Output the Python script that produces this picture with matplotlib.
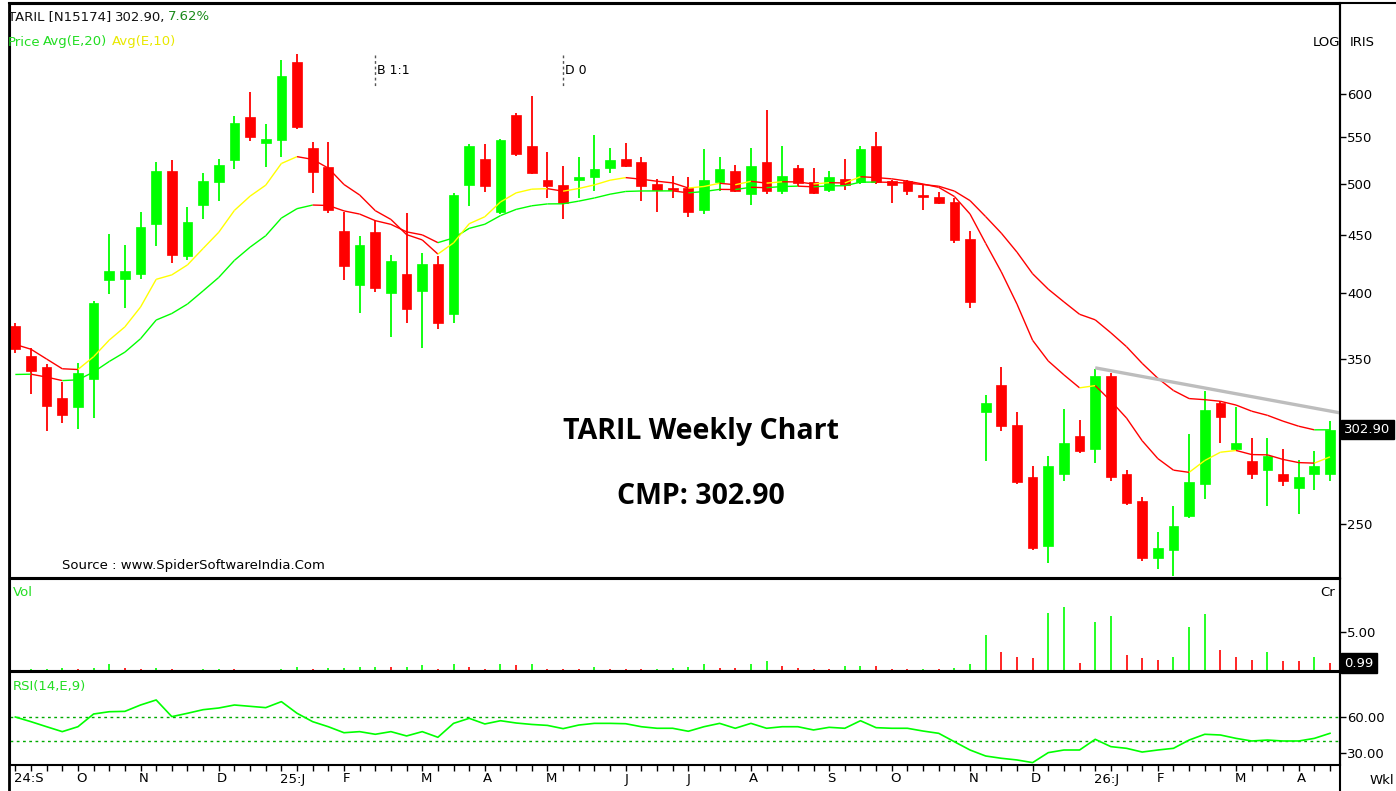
import numpy as np
import matplotlib
matplotlib.use('Agg')
import matplotlib.pyplot as plt
from matplotlib.collections import LineCollection
from matplotlib.transforms import blended_transform_factory as btf

# ---------------- data (weekly OHLC) ----------------
opens = [374, 352, 344, 323, 317, 336, 411, 412, 416, 460, 513, 431, 479, 502, 525,
         573, 543, 546, 640, 538, 517, 454, 407, 453, 400, 416, 402, 424, 383, 499,
         526, 472, 575, 540, 504, 499, 504, 507, 516, 526, 522, 500, 495, 495, 474,
         502, 513, 489, 522, 492, 516, 502, 493, 505, 502, 540, 503, 503, 488, 486,
         482, 447, 314, 332, 306, 275, 239, 277, 299, 291, 338, 277, 262, 233, 237,
         254, 271, 320, 291, 284, 279, 277, 269, 277, 277]
highs = [376, 358, 346, 334, 347, 394, 451, 441, 472, 522, 525, 477, 511, 526, 574,
         602, 564, 643, 651, 544, 544, 472, 449, 464, 432, 471, 434, 431, 490, 542,
         542, 548, 577, 598, 533, 518, 528, 552, 538, 543, 528, 505, 508, 507, 536,
         528, 519, 538, 581, 540, 519, 516, 513, 526, 540, 555, 504, 504, 498, 491,
         485, 454, 325, 344, 314, 281, 287, 316, 309, 343, 340, 279, 264, 246, 259,
         300, 328, 321, 317, 298, 298, 291, 285, 290, 308]
lows = [354, 326, 302, 307, 303, 310, 399, 388, 412, 440, 425, 428, 465, 483, 515,
        545, 517, 528, 559, 490, 471, 411, 384, 401, 366, 376, 358, 372, 376, 478,
        491, 470, 529, 510, 485, 465, 485, 492, 511, 517, 483, 472, 485, 467, 470,
        492, 491, 479, 489, 489, 497, 489, 491, 493, 500, 500, 481, 488, 474, 480,
        443, 388, 284, 302, 271, 237, 231, 273, 289, 283, 273, 260, 232, 228, 225,
        253, 263, 295, 290, 274, 259, 270, 255, 268, 273]
closes = [357, 341, 318, 312, 340, 392, 418, 418, 458, 513, 432, 462, 503, 519, 566,
          550, 548, 622, 561, 512, 474, 423, 441, 404, 427, 387, 424, 376, 488, 540,
          497, 546, 531, 511, 497, 481, 507, 515, 525, 518, 497, 493, 493, 472, 504,
          515, 492, 518, 492, 508, 501, 490, 507, 499, 536, 502, 499, 492, 486, 481,
          446, 393, 320, 305, 272, 238, 281, 295, 290, 338, 275, 261, 233, 238, 249,
          272, 315, 311, 295, 277, 287, 273, 275, 281.5, 302.9]
volume = [0.15, 0.2, 0.3, 0.4, 0.3, 0.35, 0.95, 0.35, 0.2, 0.35, 0.2, 0.15, 0.2, 0.22, 0.2,
          0.15, 0.12, 0.3, 0.5, 0.3, 0.32, 0.35, 0.5, 0.55, 0.5, 0.55, 0.75, 0.25, 0.9, 0.5,
          0.3, 0.9, 0.75, 0.95, 0.25, 0.22, 0.2, 0.5, 0.3, 0.28, 0.25, 0.3, 0.32, 0.5, 0.85,
          0.42, 0.40, 0.85, 1.23, 0.64, 0.42, 0.21, 0.2, 0.64, 0.66, 0.62, 0.21, 0.2, 0.22, 0.2,
          0.42, 0.85, 4.58, 2.42, 1.82, 1.61, 7.42, 8.18, 1.02, 6.23, 6.99, 1.99, 1.61, 1.44, 1.82,
          5.59, 7.20, 2.63, 1.82, 1.44, 2.42, 1.23, 1.23, 1.82, 0.99]
rsi = [60.0, 56.1, 51.9, 47.8, 51.9, 62.5, 64.4, 64.7, 70.0, 74.2,
       60.3, 63.1, 66.1, 67.5, 70.0, 68.9, 67.8, 72.8, 63.1, 56.1,
       51.9, 46.9, 47.8, 45.6, 47.8, 44.2, 47.8, 43.1, 54.7, 58.9,
       54.2, 56.9, 55.0, 53.8, 53.0, 50.3, 53.3, 54.7, 54.7, 54.4,
       51.9, 50.6, 50.6, 48.1, 51.9, 54.7, 50.6, 54.7, 50.6, 51.9,
       51.9, 49.2, 51.4, 50.6, 56.9, 51.1, 50.6, 50.6, 48.3, 46.4,
       39.4, 32.5, 27.5, 25.6, 24.2, 22.0, 30.3, 32.5, 32.5, 41.4,
       35.3, 33.9, 30.8, 32.5, 33.9, 40.8, 45.6, 45.0, 42.2, 40.0,
       40.8, 40.0, 40.0, 42.2, 46.4]
ema10_seed = 361.0   # EMA(10) value just before first bar
ema20_seed = 337.0   # EMA(20) value just before first bar
month_idx = [0, 4, 8, 13, 17, 21, 26, 30, 34, 39, 43, 47, 52, 56, 61, 65, 69, 73, 78, 82]
month_lbl = ['24:S', 'O', 'N', 'D', '25:J', 'F', 'M', 'A', 'M', 'J', 'J', 'A', 'S', 'O',
             'N', 'D', '26:J', 'F', 'M', 'A']
price_ticks = [250, 350, 400, 450, 500, 550, 600]
trend_x = [69, 84.65]
trend_y = [343.5, 313.4]
last_price = 302.90
pct_change = 7.62

# ---------------- derived ----------------
n = len(closes)
x = np.arange(n)
o = np.array(opens, float); h = np.array(highs, float)
l = np.array(lows, float); c = np.array(closes, float)
v = np.array(volume, float)

def ema(vals, period, seed):
    a = 2.0 / (period + 1)
    out = []
    prev = seed
    for val in vals:
        prev = prev + a * (val - prev)
        out.append(prev)
    return np.array(out)

e10 = ema(c, 10, ema10_seed)
e20 = ema(c, 20, ema20_seed)

RED = '#ff0000'
GRN = '#00ff00'
YEL = '#ffff00'

W, H = 1396, 791
fig = plt.figure(figsize=(W / 100, H / 100), dpi=100)
fig.patch.set_facecolor('white')

def fx(px):
    return px / W

def fy(py):
    return 1 - py / H

LPX, RPX = 10, 1340
ax_p = fig.add_axes([fx(LPX), fy(578), fx(RPX - LPX), (578 - 4) / H])
ax_v = fig.add_axes([fx(LPX), fy(671), fx(RPX - LPX), (671 - 579) / H])
ax_r = fig.add_axes([fx(LPX), fy(765), fx(RPX - LPX), (765 - 672) / H])

XMIN, XMAX = -0.34, 84.64
for ax in (ax_p, ax_v, ax_r):
    ax.set_xlim(XMIN, XMAX)
    ax.set_facecolor('white')
    for s in ax.spines.values():
        s.set_color('black')
        s.set_linewidth(1.5)
    ax.yaxis.tick_right()
    ax.tick_params(axis='y', which='both', direction='out', length=4, width=1,
                   labelsize=9.5, pad=1, colors='black')
    ax.tick_params(axis='x', which='both', bottom=False, labelbottom=False)

FONT = ['DejaVu Sans']

# ---------------- price panel ----------------
ax_p.set_yscale('log')
ax_p.set_ylim(223.9, 720.7)
ax_p.yaxis.set_major_locator(matplotlib.ticker.FixedLocator(price_ticks))
ax_p.yaxis.set_minor_locator(matplotlib.ticker.NullLocator())
ax_p.yaxis.set_major_formatter(matplotlib.ticker.FixedFormatter([str(t) for t in price_ticks]))
ax_p.yaxis.set_minor_formatter(matplotlib.ticker.NullFormatter())

cols = np.where(c >= o, GRN, RED)
ax_p.vlines(x, l, h, colors=cols, linewidth=1.3, zorder=3)
bottoms = np.minimum(o, c)
heights = np.maximum(np.abs(c - o), 0.8)
ax_p.bar(x, heights, bottom=bottoms, width=0.62, color=cols, edgecolor=cols,
         linewidth=0.5, zorder=4)

def colored_line(ax, xv, yv, up_col, dn_col, lw=1.0):
    segs = [[(xv[i - 1], yv[i - 1]), (xv[i], yv[i])] for i in range(1, len(xv))]
    sc = [up_col if yv[i] >= yv[i - 1] else dn_col for i in range(1, len(xv))]
    lc = LineCollection(segs, colors=sc, linewidths=lw, zorder=5)
    ax.add_collection(lc)

colored_line(ax_p, x, e20, GRN, RED, 1.0)
colored_line(ax_p, x, e10, YEL, RED, 1.0)

ax_p.plot(trend_x, trend_y, color='#bdbdbd', linewidth=2.4, zorder=6, solid_capstyle='butt')

# price box
tr = btf(ax_p.transAxes, ax_p.transData)
ax_p.text(1.003, last_price, f'{last_price:.2f}', transform=tr, color='white',
          fontsize=9.5, va='center', ha='left', family=FONT, zorder=10,
          bbox=dict(boxstyle='square,pad=0.25', fc='black', ec='black'))

# markers B 1:1 and D 0
trm = btf(ax_p.transData, ax_p.transAxes)
for xi, lab in [(23, 'B 1:1'), (35, 'D 0')]:
    ax_p.plot([xi, xi], [(578 - 55) / 574, (578 - 86) / 574], transform=trm,
              color='#555555', linewidth=1.0, linestyle=(0, (2, 2)), zorder=6)
    ax_p.text(xi + 0.12, (578 - 70) / 574, lab, transform=trm, fontsize=9,
              color='black', va='center', ha='left', family=FONT)

fig.text(fx(701), fy(432), 'TARIL Weekly Chart', fontsize=20.5, fontweight='bold',
         ha='center', va='center', family=['Open Sans'], color='black')
fig.text(fx(701), fy(496), f'CMP: {last_price:.2f}', fontsize=20.5, fontweight='bold',
         ha='center', va='center', family=['Open Sans'], color='black')
fig.text(fx(62), fy(565), 'Source : www.SpiderSoftwareIndia.Com', fontsize=9.5,
         ha='left', va='center', family=FONT, color='black')

# header
fig.text(fx(8), fy(17), 'TARIL [N15174]', fontsize=9.5, ha='left', va='center',
         family=FONT, color='#111111')
fig.text(fx(115), fy(17), f'{last_price:.2f},', fontsize=9.5, ha='left', va='center',
         family=FONT, color='#111111')
fig.text(fx(168), fy(17), f'{pct_change:.2f}%', fontsize=9.5, ha='left', va='center',
         family=FONT, color='#1a8a1a')
fig.text(fx(8), fy(42), 'Price', fontsize=9.5, ha='left', va='center', family=FONT, color='#22dd22')
fig.text(fx(43), fy(42), 'Avg(E,20)', fontsize=9.5, ha='left', va='center', family=FONT, color='#22dd22')
fig.text(fx(112), fy(42), 'Avg(E,10)', fontsize=9.5, ha='left', va='center', family=FONT, color='#e8e800')
fig.text(fx(1313), fy(42), 'LOG', fontsize=9.5, ha='left', va='center', family=FONT, color='black')
fig.text(fx(1350), fy(42), 'IRIS', fontsize=9.5, ha='left', va='center', family=FONT, color='black')

# ---------------- volume panel ----------------
ax_v.set_ylim(0, 11.7)
vcols = [GRN] + [GRN if v[i] > v[i - 1] else RED for i in range(1, n)]
ax_v.vlines(x, 0, v, colors=vcols, linewidth=1.2)
ax_v.set_yticks([5])
ax_v.set_yticklabels(['5.00'])
trv = btf(ax_v.transAxes, ax_v.transData)
ax_v.text(1.003, v[-1], f'{v[-1]:.2f}', transform=trv, color='white', fontsize=9.5,
          va='center', ha='left', family=FONT, zorder=10,
          bbox=dict(boxstyle='square,pad=0.25', fc='black', ec='black'))
ax_v.text(0.002, 0.85, 'Vol', transform=ax_v.transAxes, color='#22dd22', fontsize=9.5,
          ha='left', va='center', family=FONT)
ax_v.text(0.985, 0.85, 'Cr', transform=ax_v.transAxes, color='black', fontsize=9.5,
          ha='left', va='center', family=FONT)

# ---------------- RSI panel ----------------
ax_r.set_ylim(20, 97.5)
ax_r.plot(x, rsi, color=GRN, linewidth=1.2, zorder=4)
for lvl in (60, 40):
    ax_r.axhline(lvl, color='#00aa00', linewidth=1.0, linestyle=(0, (2, 2.5)), zorder=3)
ax_r.set_yticks([30, 60])
ax_r.set_yticklabels(['30.00', '60.00'])
ax_r.text(0.002, 0.84, 'RSI(14,E,9)', transform=ax_r.transAxes, color='#22dd22',
          fontsize=9.5, ha='left', va='center', family=FONT)

ax_r.set_xticks(x)
ax_r.tick_params(axis='x', which='both', bottom=True, labelbottom=False, direction='out',
                 length=4, width=1, colors='black')
trx = btf(ax_r.transData, fig.transFigure)
for xi, lab in zip(month_idx, month_lbl):
    ax_r.text(xi - 0.1, fy(779), lab, transform=trx, fontsize=9.5, ha='left', va='center',
              family=FONT, color='black')
fig.text(fx(1370), fy(780), 'Wkl', fontsize=9.5, ha='left', va='center', family=FONT,
         color='black')

# outer frame lines
fig.add_artist(plt.Line2D([fx(9), fx(9)], [fy(3), fy(791)], color='black', linewidth=2))
fig.add_artist(plt.Line2D([fx(9), fx(1396)], [fy(3), fy(3)], color='black', linewidth=1.5))
fig.add_artist(plt.Line2D([fx(1340), fx(1340)], [fy(3), fy(791)], color='black', linewidth=1.5))

fig.savefig('out.png', dpi=100, facecolor='white')
